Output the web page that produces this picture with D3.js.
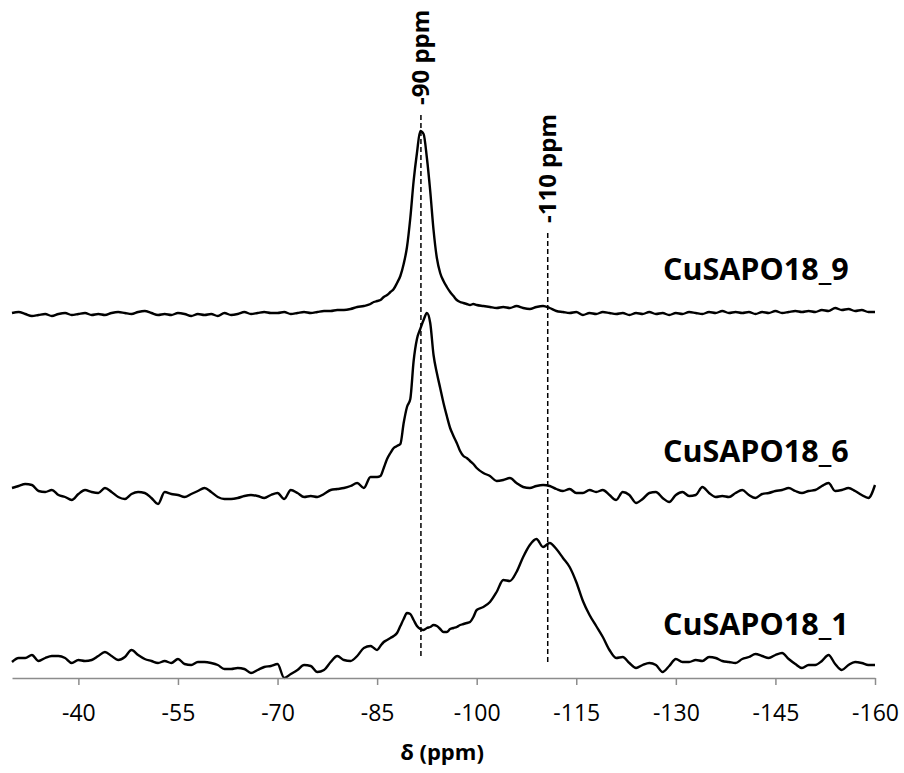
<!DOCTYPE html>
<html>
<head>
<meta charset="utf-8">
<script src="https://cdn.jsdelivr.net/npm/d3@7"></script>
<style>
  body { margin: 0; background: #fff; }
</style>
</head>
<body>
<div id="container"></div>
<script>
// chemical shift grid (ppm), finer around the -90 peaks
var ppm = [
  -30,-31,-32,-33,-34,-35,-36,-37,-38,-39,
  -40,-41,-42,-43,-44,-45,-46,-47,-48,-49,
  -50,-51,-52,-53,-54,-55,-56,-57,-58,-59,
  -60,-61,-62,-63,-64,-65,-66,-67,-68,-69,
  -70,-71,-72,-73,-74,-75,-76,-77,-78,-79,
  -80,-81,-82,-83,-84,
  -84.5,-85,-85.5,-86,-86.5,-87,-87.5,-88,
  -88.5,-89,-89.5,-90,-90.5,-91,-91.5,-92,
  -92.5,-93,-93.5,-94,-94.5,-95,-95.5,-96,
  -96.5,-97,-97.5,-98,-98.5,-99,-99.5,-100,
  -101,-102,-103,-104,-105,-106,-107,-108,-109,-110,
  -111,-112,-113,-114,-115,-116,-117,-118,-119,-120,
  -121,-122,-123,-124,-125,-126,-127,-128,-129,-130,
  -131,-132,-133,-134,-135,-136,-137,-138,-139,-140,
  -141,-142,-143,-144,-145,-146,-147,-148,-149,-150,
  -151,-152,-153,-154,-155,-156,-157,-158,-159,-160
];

// intensities (a.u.), each relative to its own baseline
var cusapo18_9 = [
  0.1,0.2,0.0,-0.2,-0.1,0.0,-0.2,0.0,0.1,-0.1,
  0.0,0.1,-0.1,0.0,-0.1,0.1,0.2,0.1,0.0,0.2,
  0.3,0.1,-0.1,0.0,-0.1,0.1,0.0,-0.2,0.0,-0.1,
  0.0,-0.2,0.1,-0.1,0.0,0.2,0.0,0.1,0.2,0.1,
  0.1,0.2,0.0,0.1,0.2,0.1,0.2,0.3,0.3,0.4,
  0.4,0.5,0.7,0.8,1.0,
  1.2,1.3,1.4,1.7,1.9,2.2,2.5,3.1,
  3.8,5.0,6.7,9.6,13.3,16.1,18.3,18.0,
  15.6,12.3,8.4,5.6,4.1,3.3,2.7,2.2,
  1.8,1.4,1.2,1.1,1.0,0.9,1.0,0.9,
  0.8,0.7,0.6,0.7,0.6,0.8,0.6,0.5,0.7,0.8,
  0.6,0.3,0.2,0.1,0.2,-0.1,0.1,0.0,0.2,0.1,
  0.0,0.1,-0.1,0.1,0.0,0.2,0.0,0.1,-0.1,0.1,
  0.0,0.2,0.1,0.0,0.2,0.1,0.3,0.1,0.2,0.1,
  0.2,0.0,0.2,0.1,0.3,0.1,0.2,0.3,0.2,0.3,
  0.2,0.4,0.3,0.6,0.4,0.5,0.3,0.4,0.2,0.2
];
var cusapo18_6 = [
  0.5,0.7,0.9,0.8,0.2,0.1,0.3,-0.2,-0.4,-0.7,
  -0.1,0.3,0.1,0.0,0.5,0.1,-0.4,-0.6,-0.1,0.1,
  0.0,-0.5,-1.1,0.1,-0.1,-0.2,-0.4,-0.1,0.2,0.5,
  0.1,-0.4,-0.6,-0.6,-0.5,-0.3,-0.2,-0.3,-0.5,-0.2,
  0.0,-0.6,0.3,0.0,-0.4,-0.3,-0.4,-0.1,0.3,0.4,
  0.5,0.7,1.0,0.5,1.6,
  1.6,1.6,1.7,2.5,3.4,4.0,4.5,4.7,
  4.9,7.0,8.6,9.4,13.2,15.4,16.4,17.3,
  18.0,17.0,13.8,12.0,10.5,9.0,7.7,6.5,
  5.7,5.0,4.2,3.7,3.5,3.2,2.9,2.5,
  2.0,1.7,1.2,1.3,1.5,1.0,0.6,0.5,0.7,0.8,
  0.7,0.4,0.2,0.4,0.0,0.0,0.3,0.1,0.3,-0.2,
  -0.7,0.1,-0.2,-1.0,-0.6,0.0,0.1,-0.5,-0.9,-0.2,
  0.1,-0.3,-0.2,0.6,0.0,-0.4,-0.3,-0.4,0.0,0.3,
  -0.2,-0.5,-0.1,0.0,0.2,0.3,0.5,0.2,0.0,0.2,
  0.3,0.7,1.0,0.2,0.3,0.5,0.2,-0.2,-0.5,0.8
];
var cusapo18_1 = [
  0.0,0.4,0.4,0.7,0.1,0.4,0.6,0.6,0.4,-0.1,
  0.2,0.1,0.2,0.6,1.0,0.6,0.2,0.5,1.2,0.7,
  0.3,0.1,-0.1,0.1,-0.1,0.3,-0.2,-0.3,0.0,0.0,
  -0.1,-0.3,-0.7,-0.7,-0.6,-0.7,-1.1,-0.8,-0.5,-0.4,
  -0.2,-1.6,-1.2,-0.8,-0.3,-0.4,-1.0,-0.8,0.0,0.6,
  0.2,0.1,0.6,1.4,1.6,
  1.4,1.2,1.6,2.0,2.2,2.4,2.6,2.9,
  3.6,4.3,4.9,4.8,4.2,3.6,3.3,3.2,
  3.4,3.5,3.7,3.6,3.3,3.0,3.0,3.3,
  3.4,3.5,3.7,3.8,3.9,4.0,4.5,5.2,
  5.5,6.0,7.0,8.2,8.1,9.0,10.5,11.7,12.3,11.5,
  11.9,11.3,10.4,9.5,8.0,6.1,4.7,3.6,2.5,1.2,
  0.4,0.5,-0.1,-0.6,-0.3,-0.1,-0.3,-1.0,-0.4,0.3,
  0.0,0.0,0.2,0.1,0.5,0.4,0.1,0.0,-0.1,0.3,
  0.5,0.8,0.6,0.4,0.7,0.9,0.3,-0.2,-0.6,-0.3,
  -0.3,0.1,0.7,-0.2,-0.8,-0.3,0.0,-0.1,-0.3,-0.3
];

var seriesNames = ["CuSAPO18_1", "CuSAPO18_6", "CuSAPO18_9"];
var seriesOffsets = [1.6, 18.5, 36.4];   // vertical stacking of the spectra

var tickValues = [-40, -55, -70, -85, -100, -115, -130, -145, -160];
var tickLabels = ["-40", "-55", "-70", "-85", "-100", "-115", "-130", "-145", "-160"];

// reference lines
var markPpm = [-91.6, -110.7];
var markLabels = ["-90 ppm", "-110 ppm"];

var width = 904, height = 773;

var svg = d3.select("#container").append("svg")
    .attr("width", width)
    .attr("height", height);

var x = d3.scaleLinear().domain([-30, -160]).range([12, 875]);
var y = d3.scaleLinear().domain([0, 66]).range([678, 18]);

var series = [cusapo18_1, cusapo18_6, cusapo18_9].map(function (vals, k) {
    return { name: seriesNames[k], offset: seriesOffsets[k], values: vals };
});

//dashed guide lines
var markTop = [115, 233],
    markBottom = [659, 663];

svg.selectAll(".mark")
    .data(markPpm)
    .enter().append("line")
    .attr("class", "mark")
    .attr("x1", function (d) { return x(d); })
    .attr("x2", function (d) { return x(d); })
    .attr("y1", function (d, i) { return markTop[i]; })
    .attr("y2", function (d, i) { return markBottom[i]; })
    .attr("stroke", "#000")
    .attr("stroke-width", 1.5)
    .attr("stroke-dasharray", "5,3");

svg.selectAll(".markLabel")
    .data(markPpm)
    .enter().append("text")
    .attr("class", "markLabel")
    .attr("transform", function (d, i) {
        return "translate(" + (x(d) + 8) + "," + (markTop[i] - 10) + ") rotate(-90)";
    })
    .attr("font-family", "Open Sans")
    .attr("font-weight", "bold")
    .attr("font-size", 24)
    .text(function (d, i) { return markLabels[i]; });

//spectra
var line = d3.line()
    .x(function (d, i) { return x(ppm[i]); })
    .curve(d3.curveMonotoneX);

svg.selectAll(".spectrum")
    .data(series)
    .enter().append("path")
    .attr("class", "spectrum")
    .attr("d", function (s) {
        return line.y(function (d) { return y(d + s.offset); })(s.values);
    })
    .attr("fill", "none")
    .attr("stroke", "#000")
    .attr("stroke-width", 2.4)
    .attr("stroke-linejoin", "round");

//series names
var nameY = [635, 462, 280];
svg.selectAll(".name")
    .data(series)
    .enter().append("text")
    .attr("class", "name")
    .attr("x", 663)
    .attr("y", function (d, i) { return nameY[i]; })
    .attr("font-family", "Open Sans")
    .attr("font-weight", "bold")
    .attr("font-size", 30.5)
    .text(function (d) { return d.name; });

//x axis
var axis = svg.append("g")
    .attr("transform", "translate(0,678)")
    .call(d3.axisBottom(x)
        .tickValues(tickValues)
        .tickFormat(function (d, i) { return tickLabels[i]; })
        .tickSize(7)
        .tickSizeOuter(0)
        .tickPadding(20));

axis.select(".domain").attr("stroke", "#8c8c8c").attr("stroke-width", 1.5);
axis.selectAll(".tick line").attr("stroke", "#8c8c8c").attr("stroke-width", 1.5);
axis.selectAll(".tick text")
    .attr("font-family", "Open Sans")
    .attr("font-size", 23)
    .attr("fill", "#000");

svg.append("text")
    .attr("x", 442)
    .attr("y", 760)
    .attr("text-anchor", "middle")
    .attr("font-family", "Open Sans")
    .attr("font-weight", "bold")
    .attr("font-size", 22)
    .text("δ (ppm)");
</script>
</body>
</html>
